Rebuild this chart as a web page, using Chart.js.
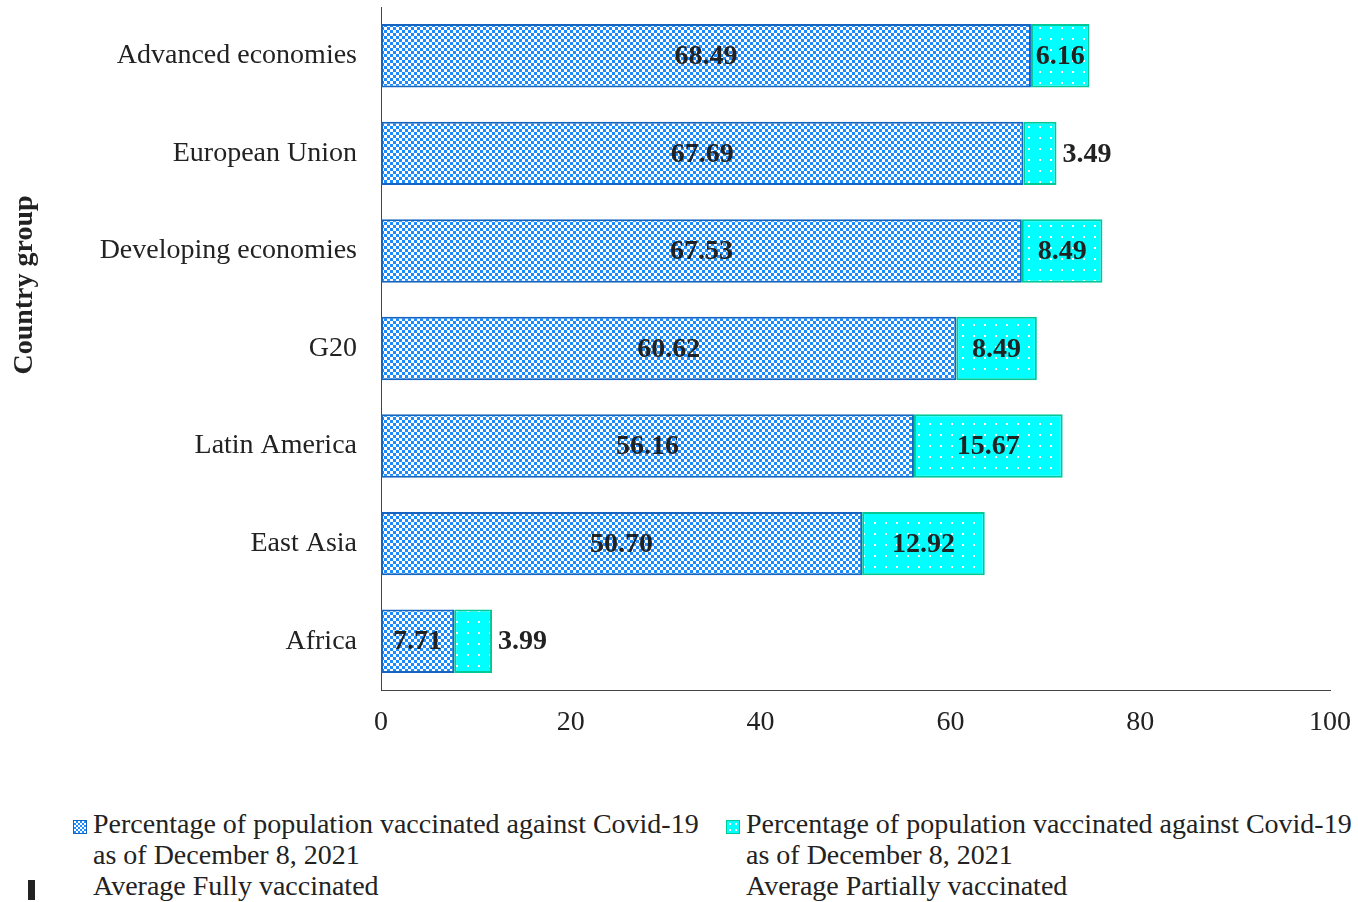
<!DOCTYPE html>
<html>
<head>
<meta charset="utf-8">
<script src="https://cdn.jsdelivr.net/npm/chart.js@4.4.1/dist/chart.umd.min.js"></script>
<style>
    body { margin: 0; background: #fff; width: 1358px; height: 902px; overflow: hidden; position: relative; font-family: "Liberation Serif", "Times New Roman", serif; color: #222; }
    #wrap { position: absolute; left: 0; top: 0; width: 1358px; height: 770px; }
    .legend-item { position: absolute; top: 808px; font-size: 28px; line-height: 31px; color: #222; white-space: nowrap; }
    .legend-item .box { position: absolute; left: -20px; top: 12px; width: 12px; height: 12px; }
    .box.full { border: 1px solid #1565c0; background: repeating-conic-gradient(#1e90ff 0 25%, #fff 0 50%) 0 0 / 4px 4px; }
    .box.part { border: 1px solid #00c896; background: #00ffff radial-gradient(circle, #fff 1px, transparent 1.5px) 0 0 / 6px 6px; }
    #mark { position: absolute; left: 28px; top: 880px; width: 7px; height: 20px; background: #222; }
</style>
</head>
<body>
<div id="wrap"><canvas id="vaxChart" width="1358" height="770"></canvas></div>
<div class="legend-item" style="left:93px"><span class="box full"></span>Percentage of population vaccinated against Covid-19<br>as of December 8, 2021<br>Average Fully vaccinated</div>
<div class="legend-item" style="left:746px"><span class="box part"></span>Percentage of population vaccinated against Covid-19<br>as of December 8, 2021<br>Average Partially vaccinated</div>
<div id="mark"></div>
<script>
const categories = ['Advanced economies', 'European Union', 'Developing economies', 'G20', 'Latin America', 'East Asia', 'Africa'];
const fullyVaccinated = [68.49, 67.69, 67.53, 60.62, 56.16, 50.70, 7.71];
const partiallyVaccinated = [6.16, 3.49, 8.49, 8.49, 15.67, 12.92, 3.99];
const xTicks = [0, 20, 40, 60, 80, 100];

const SERIF = '"Liberation Serif", "Times New Roman", serif';

// motifs de remplissage
function checkerPattern() {
    const c = document.createElement('canvas');
    c.width = 6; c.height = 6;
    const g = c.getContext('2d');
    g.fillStyle = '#ffffff';
    g.fillRect(0, 0, 6, 6);
    g.fillStyle = '#1a8cff';
    g.fillRect(0, 0, 3, 3);
    g.fillRect(3, 3, 3, 3);
    return g.createPattern(c, 'repeat');
}

function dotPattern() {
    const c = document.createElement('canvas');
    c.width = 11; c.height = 11;
    const g = c.getContext('2d');
    g.fillStyle = '#00ffff';
    g.fillRect(0, 0, 11, 11);
    g.fillStyle = '#ffffff';
    g.fillRect(5, 5, 2, 2);
    return g.createPattern(c, 'repeat');
}

// étiquettes des valeurs
const valueLabels = {
    id: 'valueLabels',
    afterDatasetsDraw(chart) {
        const ctx = chart.ctx;
        ctx.save();
        ctx.font = 'bold 28px ' + SERIF;
        ctx.fillStyle = '#222';
        ctx.textBaseline = 'middle';
        chart.data.datasets.forEach((ds, i) => {
            chart.getDatasetMeta(i).data.forEach((bar, j) => {
                const text = ds.data[j].toFixed(2);
                const w = ctx.measureText(text).width;
                const left = Math.min(bar.x, bar.base);
                const right = Math.max(bar.x, bar.base);
                if (w - 6 <= right - left) {
                    ctx.textAlign = 'center';
                    ctx.fillText(text, (left + right) / 2, bar.y + 1);
                } else {
                    ctx.textAlign = 'left';
                    ctx.fillText(text, right + 6, bar.y + 1);
                }
            });
        });
        ctx.restore();
    }
};

// titre de l'axe vertical
const axisTitle = {
    id: 'axisTitle',
    afterDraw(chart) {
        const ctx = chart.ctx;
        ctx.save();
        ctx.translate(25, 285);
        ctx.rotate(-Math.PI / 2);
        ctx.font = 'bold 28px ' + SERIF;
        ctx.fillStyle = '#222';
        ctx.textAlign = 'center';
        ctx.textBaseline = 'middle';
        ctx.fillText('Country group', 0, 0);
        ctx.restore();
    }
};

const ctx = document.getElementById('vaxChart').getContext('2d');
const vaxChart = new Chart(ctx, {
    type: 'bar',
    data: {
        labels: categories,
        datasets: [{
            label: 'Average Fully vaccinated',
            data: fullyVaccinated,
            backgroundColor: checkerPattern(),
            borderColor: '#1565c0',
            borderWidth: 2,
            borderSkipped: false
        }, {
            label: 'Average Partially vaccinated',
            data: partiallyVaccinated,
            backgroundColor: dotPattern(),
            borderColor: '#00c896',
            borderWidth: 2,
            borderSkipped: false
        }]
    },
    options: {
        indexAxis: 'y',
        responsive: false,
        animation: false,
        maintainAspectRatio: false,
        categoryPercentage: 1,
        barPercentage: 0.65,
        layout: { padding: { top: 7, right: 28, left: 0, bottom: 0 } },
        plugins: {
            legend: { display: false },
            tooltip: { enabled: false }
        },
        scales: {
            x: {
                stacked: true,
                min: 0,
                max: 100,
                afterBuildTicks: s => { s.ticks = xTicks.map(v => ({ value: v })); },
                afterFit: s => { s.height = 80; s.paddingLeft = 0; s.paddingRight = 0; },
                grid: { display: false, drawTicks: false },
                border: { display: true, color: '#444', width: 1 },
                ticks: { padding: 16, color: '#222', font: { family: SERIF, size: 28 } }
            },
            y: {
                stacked: true,
                afterFit: s => { s.width = 381; s.paddingTop = 0; s.paddingBottom = 0; },
                grid: { display: false, drawTicks: false },
                border: { display: true, color: '#444', width: 1 },
                ticks: { padding: 24, color: '#222', font: { family: SERIF, size: 28 } }
            }
        }
    },
    plugins: [valueLabels, axisTitle]
});
</script>
</body>
</html>
